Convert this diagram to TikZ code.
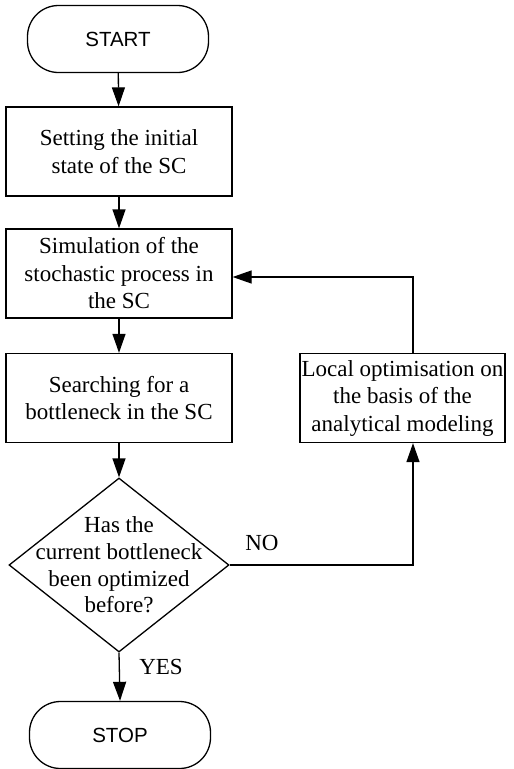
\documentclass[tikz,border=0pt]{standalone}
\usepackage{fontspec}
\setmainfont{Liberation Serif}
\newfontfamily\headfont{Liberation Sans}
\usetikzlibrary{arrows.meta,shapes.geometric}

\tikzset{
  every picture/.style={line width=1.3pt},
  flow/.style={-{Triangle[width=13pt,length=19pt]}},
  terminal/.style={draw, rounded corners=31pt, minimum width=181pt,
    minimum height=67pt, inner sep=0pt,
    font=\headfont\fontsize{20.5}{24}\selectfont},
  stepbox/.style={draw, minimum width=226pt, minimum height=89pt,
    inner sep=0pt, align=center,
    font=\fontsize{23}{27.5}\selectfont},
  decision/.style={draw, diamond, inner sep=0pt,
    minimum width=220pt, minimum height=174pt},
  tag/.style={font=\fontsize{23}{27.5}\selectfont, inner sep=0pt}
}

\begin{document}
\begin{tikzpicture}[x=1pt, y=-1pt]
  \useasboundingbox (0,0) rectangle (514,769);

  \node[terminal] (start) at (118,39) {START};
  \node[stepbox] (init) at (119,151.5) {Setting the initial\\state of the SC};
  \node[stepbox] (sim) at (119,273.5) {Simulation of the\\stochastic process in\\the SC};
  \node[stepbox] (search) at (119,398) {Searching for a\\bottleneck in the SC};
  \node[stepbox, minimum width=205pt] (local) at (402.5,398)
    {Local optimisation on\\the basis of the\\analytical modeling};
  \node[decision, label={[align=center, font=\fontsize{23}{26.7}\selectfont]center:Has the\\current bottleneck\\been optimized\\before?}]
    (check) at (119,565) {};
  \node[terminal] (stop) at (120,735) {STOP};

  \draw[flow] (start) -- (init);
  \draw[flow] (init) -- (sim);
  \draw[flow] (sim) -- (search);
  \draw[flow] (search) -- (check);
  \draw[flow] (check.south) -- (stop.north);
  \draw[flow] (check.east) -| ([xshift=10.5pt]local.south);
  \draw[flow] ([xshift=10.5pt]local.north) |- ([yshift=-3.5pt]sim.east);

  \node[tag] (no) at (262,543) {NO};
  \node[tag] (yes) at (161,667) {YES};
\end{tikzpicture}
\end{document}
